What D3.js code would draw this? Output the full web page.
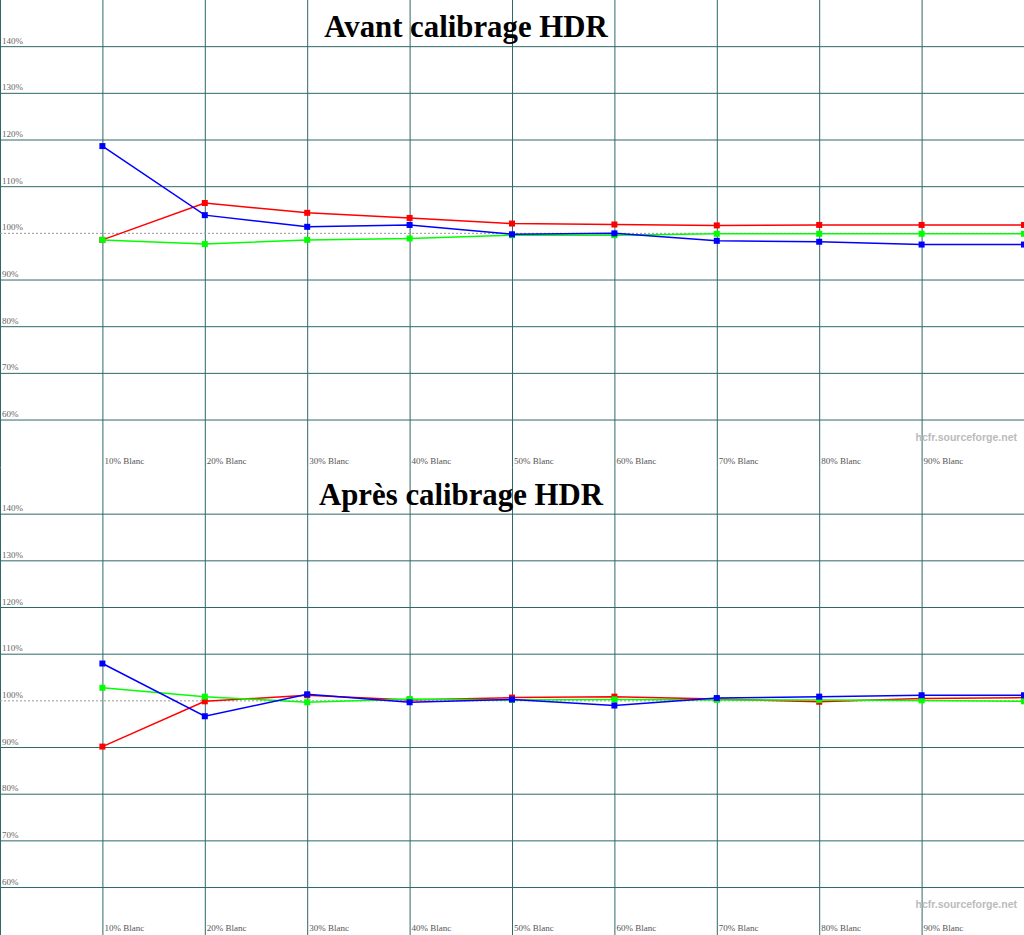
<!DOCTYPE html>
<html><head><meta charset="utf-8">
<script src="https://cdn.jsdelivr.net/npm/d3@7"></script>
<style>html,body{margin:0;padding:0;background:#fff;}svg{display:block;}</style>
</head><body>
<svg id="c" width="1024" height="935"></svg>
<script>
const categories = ["10% Blanc","20% Blanc","30% Blanc","40% Blanc","50% Blanc","60% Blanc","70% Blanc","80% Blanc","90% Blanc","100% Blanc"];
const yTicks = [140,130,120,110,100,90,80,70,60];
const titles = ["Avant calibrage HDR","Après calibrage HDR"];
const watermark = "hcfr.sourceforge.net";

// Chart 1 : Avant calibrage
const avantRed   = [98.6,106.5,104.4,103.3,102.1,101.9,101.7,101.8,101.8,101.8];
const avantGreen = [98.6,97.7,98.6,98.9,99.6,99.6,99.9,99.9,99.9,99.9];
const avantBlue  = [118.7,103.9,101.4,101.8,99.8,100.0,98.4,98.2,97.6,97.6];
// Chart 2 : Après calibrage
const apresRed   = [90.2,99.9,101.2,100.2,100.7,100.9,100.4,99.8,100.5,100.7];
const apresGreen = [102.8,100.9,99.7,100.4,100.2,100.3,100.2,100.2,100.1,99.9];
const apresBlue  = [108.0,96.7,101.4,99.7,100.3,99.0,100.6,100.9,101.2,101.2];

const charts = [
  {title: titles[0], series: [["#ff0000",avantRed],["#00ff00",avantGreen],["#0000ff",avantBlue]]},
  {title: titles[1], series: [["#ff0000",apresRed],["#00ff00",apresGreen],["#0000ff",apresBlue]]}
];

const W = 1024, H = 935/2;
const svg = d3.select("#c");
const grid = "#2f6868";

charts.forEach((ch, ci) => {
  const g = svg.append("g").attr("transform", `translate(0,${ci*H})`);
  const x = d3.scaleLinear().domain([0,10]).range([0,W]);
  const y = d3.scaleLinear().domain([150,50]).range([0,H-0.8]);

  g.selectAll(".vl").data(d3.range(0,10)).join("line")
    .attr("x1", d => x(d)+0.5).attr("x2", d => x(d)+0.5)
    .attr("y1", 0).attr("y2", H)
    .attr("stroke", grid).attr("stroke-width", 1);

  g.selectAll(".hl").data(yTicks.filter(v => v !== 100)).join("line")
    .attr("x1", 0).attr("x2", W)
    .attr("y1", d => y(d)).attr("y2", d => y(d))
    .attr("stroke", grid).attr("stroke-width", 1);

  g.append("line").attr("x1",0).attr("x2",W)
    .attr("y1", y(100)).attr("y2", y(100))
    .attr("stroke","#999").attr("stroke-width",1).attr("stroke-dasharray","2,2");

  g.selectAll(".yl").data(yTicks).join("text")
    .attr("x", 2).attr("y", d => y(d) - 3)
    .attr("font-family","'Liberation Serif', serif").attr("font-size", 9)
    .attr("fill","#666").text(d => d + "%");

  g.selectAll(".xl").data(categories.slice(0,9)).join("text")
    .attr("x", (d,i) => x(i+1) + 2).attr("y", y(50) - 3)
    .attr("font-family","'Liberation Serif', serif").attr("font-size", 9)
    .attr("fill","#555").text(d => d);

  g.append("text").attr("x", 1017).attr("y", y(55.6))
    .attr("text-anchor","end")
    .attr("font-family","'Liberation Sans', Arial, sans-serif").attr("font-size", 10.5)
    .attr("font-weight","bold").attr("fill","#bbb").text(watermark);

  g.append("text").attr("x", ci === 0 ? 466 : 461).attr("y", 37)
    .attr("text-anchor","middle")
    .attr("font-family","'Liberation Serif', 'Times New Roman', serif")
    .attr("font-size", 30.8).attr("font-weight","bold").attr("fill","#000")
    .text(ch.title);

  const line = d3.line().x((d,i) => x(i+1)).y(d => y(d));
  ch.series.forEach(([col, vals]) => {
    g.append("path").datum(vals).attr("d", line)
      .attr("fill","none").attr("stroke", col).attr("stroke-width", 1.5);
    g.selectAll(null).data(vals).join("rect")
      .attr("x", (d,i) => x(i+1) - 3).attr("y", d => y(d) - 3)
      .attr("width", 6).attr("height", 6).attr("fill", col);
  });
});
</script>
</body></html>
